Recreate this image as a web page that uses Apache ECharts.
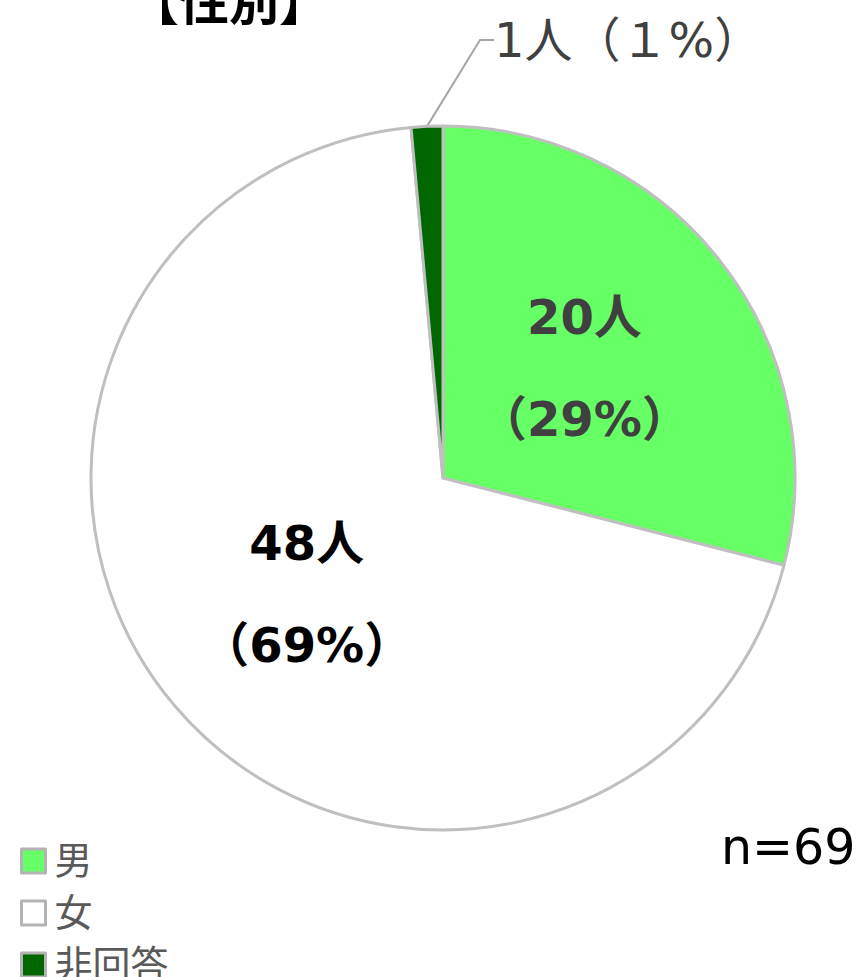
<!DOCTYPE html>
<html>
<head>
<meta charset="utf-8">
<script src="https://cdn.jsdelivr.net/npm/echarts@6/dist/echarts.min.js"></script>
<style>
  html, body { margin: 0; padding: 0; background: #fff; }
  #chart { width: 858px; height: 977px; }
</style>
</head>
<body>
<div id="chart"></div>
<script>
// data
const categories = ['男', '女', '非回答'];
const counts = [20, 48, 1];
const percentLabels = ['29%', '69%', '１%'];
const sliceColors = ['#66ff66', '#ffffff', '#006600'];
const total = 69;

const JP = "'DejaVu Sans', 'Noto Sans CJK JP', sans-serif";

const chart = echarts.init(document.getElementById('chart'), null, { renderer: 'svg' });

const pieData = categories.map((name, i) => {
  const item = {
    name: name,
    value: counts[i],
    itemStyle: { color: sliceColors[i] }
  };
  if (i === 2) {
    // small slice: outside label with leader line
    item.label = {
      show: true,
      position: 'outside',
      formatter: counts[i] + '人（' + percentLabels[i] + '）',
      fontSize: 48,
      fontWeight: 'normal',
      color: '#404040'
    };
    item.labelLine = { show: true, length: 70, length2: 14, lineStyle: { color: '#a6a6a6', width: 2 } };
  } else {
    item.label = {
      show: true,
      position: 'inside',
      formatter: counts[i] + '人\n（' + percentLabels[i] + '）',
      fontSize: 48,
      fontWeight: 'bold',
      lineHeight: 102,
      color: i === 0 ? '#404040' : '#000000'
    };
  }
  return item;
});

chart.setOption({
  animation: false,
  title: [
    {
      text: '【性別】',
      left: 124,
      top: -27,
      textStyle: { fontSize: 50, fontWeight: 'bold', color: '#000', fontFamily: JP }
    },
    {
      text: 'n=' + total,
      left: 716,
      top: 818,
      textStyle: { fontSize: 49, fontWeight: 'normal', color: '#000', fontFamily: JP }
    }
  ],
  legend: {
    orient: 'vertical',
    left: 15,
    top: 836,
    height: 200,
    icon: 'rect',
    itemWidth: 24,
    itemHeight: 24,
    itemGap: 12,
    itemStyle: { borderColor: '#b3b3b3', borderWidth: 3 },
    textStyle: { fontSize: 38, lineHeight: 40, color: '#595959', fontFamily: JP, padding: [0, 0, 0, 4] },
    data: categories
  },
  series: [
    {
      type: 'pie',
      center: [443, 478],
      radius: [0, 352],
      startAngle: 90,
      clockwise: true,
      avoidLabelOverlap: false,
      itemStyle: { borderColor: '#bfbfbf', borderWidth: 3 },
      label: { fontFamily: JP },
      emphasis: { disabled: true },
      labelLayout: function (params) {
        if (params.dataIndex === 2) {
          return { x: 494, y: 40, align: 'left', verticalAlign: 'middle' };
        }
        return {};
      },
      data: pieData
    }
  ]
});
</script>
</body>
</html>
